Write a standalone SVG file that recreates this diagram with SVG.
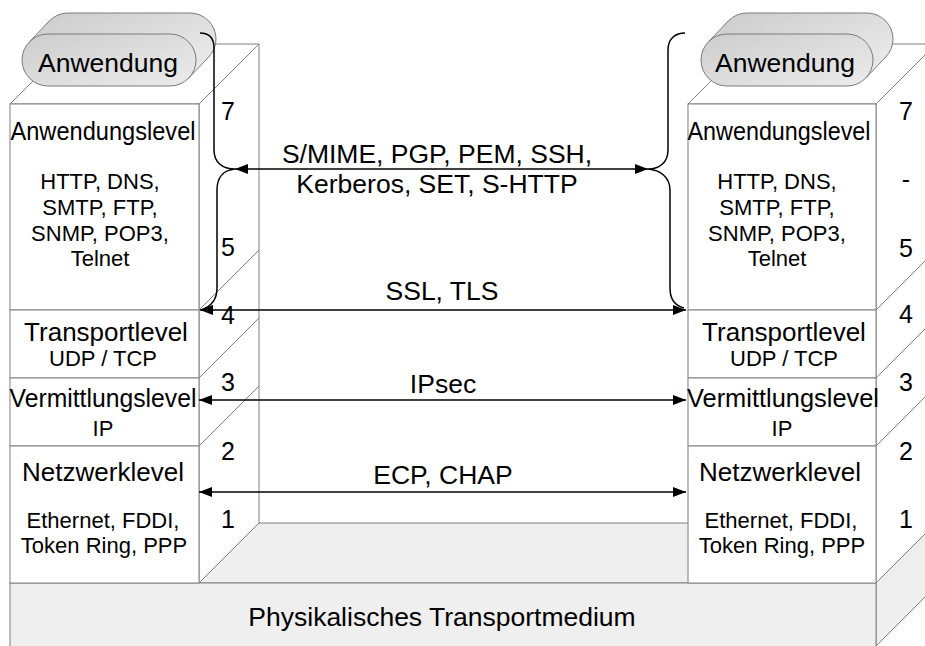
<svg xmlns="http://www.w3.org/2000/svg" width="925" height="646" viewBox="0 0 925 646">
<defs>
<linearGradient id="capg" x1="0" y1="0" x2="1" y2="1">
<stop offset="0" stop-color="#cdcdcd"/>
<stop offset="1" stop-color="#ececec"/>
</linearGradient>
<marker id="ah" markerWidth="13" markerHeight="10" refX="13" refY="5" orient="auto-start-reverse" markerUnits="userSpaceOnUse">
<path d="M0,0 L13,5 L0,10 z" fill="#000"/>
</marker>
<style>
.box{fill:#fff;stroke:#808080;stroke-width:1}
.gr{fill:#efefef;stroke:#808080;stroke-width:1}
.ln{stroke:#808080;stroke-width:1;fill:none}
.cap{fill:url(#capg);stroke:#7a7a7a;stroke-width:1}
.capf{fill:url(#capg);stroke:none}
.t{font-family:"Liberation Sans",Arial,sans-serif;fill:#000;text-anchor:middle}
.ti{font-size:26px}
.sb{font-size:22px}
.nm{font-size:25px}
.lb{font-size:26.5px}
.conn{stroke:#000;stroke-width:1.5;fill:none}
.arr{marker-start:url(#ah);marker-end:url(#ah)}
</style>
</defs>
<rect width="925" height="646" fill="#fff"/>
<g id="base">
<polygon class="gr" points="10,583 876,583 936,523 70,523"/>
<polygon class="gr" points="876,583 936,523 936,586 876,646"/>
<rect class="gr" x="10" y="583" width="866" height="70"/>
<text class="t lb" x="442" y="626">Physikalisches Transportmedium</text>
</g>
<g id="stack-left">
<polygon class="box" points="199,104 259,44 259,523 199,583"/>
<line class="ln" x1="199" y1="310" x2="259" y2="250"/>
<line class="ln" x1="199" y1="378" x2="259" y2="318"/>
<line class="ln" x1="199" y1="446" x2="259" y2="386"/>
<polygon class="box" points="10,104 199,104 259,44 70,44"/>
<rect class="box" x="10" y="104" width="189" height="206"/>
<rect class="box" x="10" y="310" width="189" height="68"/>
<rect class="box" x="10" y="378" width="189" height="68"/>
<rect class="box" x="10" y="446" width="189" height="137"/>
</g>
<g id="stack-right">
<polygon class="box" points="876,104 936,44 936,523 876,583"/>
<line class="ln" x1="876" y1="310" x2="936" y2="250"/>
<line class="ln" x1="876" y1="378" x2="936" y2="318"/>
<line class="ln" x1="876" y1="446" x2="936" y2="386"/>
<polygon class="box" points="688,104 876,104 936,44 748,44"/>
<rect class="box" x="688" y="104" width="188" height="206"/>
<rect class="box" x="688" y="310" width="188" height="68"/>
<rect class="box" x="688" y="378" width="188" height="68"/>
<rect class="box" x="688" y="446" width="188" height="137"/>
</g>
<g id="app-left">
<rect class="cap" x="42" y="13" width="174" height="52" rx="26"/>
<polygon class="capf" points="29.6,41.6 49.6,20.6 208.4,57.4 188.4,78.4"/>
<line class="ln" x1="29.6" y1="41.6" x2="49.6" y2="20.6" stroke="#7a7a7a"/>
<line class="ln" x1="188.4" y1="78.4" x2="208.4" y2="57.4" stroke="#7a7a7a"/>
<rect class="cap" x="22" y="34" width="174" height="52" rx="26"/>
<text class="t lb" x="108" y="72">Anwendung</text>
</g>
<g id="app-right">
<rect class="cap" x="721" y="13" width="172" height="52" rx="26"/>
<polygon class="capf" points="708.6,41.6 728.6,20.6 885.4,57.4 865.4,78.4"/>
<line class="ln" x1="708.6" y1="41.6" x2="728.6" y2="20.6" stroke="#7a7a7a"/>
<line class="ln" x1="865.4" y1="78.4" x2="885.4" y2="57.4" stroke="#7a7a7a"/>
<rect class="cap" x="701" y="34" width="172" height="52" rx="26"/>
<text class="t lb" x="785" y="72">Anwendung</text>
</g>
<g id="layer-app-left">
<text class="t ti" x="103" y="140" textLength="185" lengthAdjust="spacingAndGlyphs">Anwendungslevel</text>
<text class="t sb" x="100" y="189">HTTP, DNS,</text>
<text class="t sb" x="100" y="215">SMTP, FTP,</text>
<text class="t sb" x="100" y="241">SNMP, POP3,</text>
<text class="t sb" x="100" y="266">Telnet</text>
</g>
<g id="layer-transport-left">
<text class="t ti" x="106" y="341">Transportlevel</text>
<text class="t sb" x="103" y="366">UDP / TCP</text>
</g>
<g id="layer-network-left">
<text class="t ti" x="103" y="407" textLength="187" lengthAdjust="spacingAndGlyphs">Vermittlungslevel</text>
<text class="t sb" x="103" y="436">IP</text>
</g>
<g id="layer-link-left">
<text class="t ti" x="103" y="481">Netzwerklevel</text>
<text class="t sb" x="103" y="528">Ethernet, FDDI,</text>
<text class="t sb" x="104" y="553">Token Ring, PPP</text>
</g>
<g id="layer-app-right">
<text class="t ti" x="779" y="140" textLength="183" lengthAdjust="spacingAndGlyphs">Anwendungslevel</text>
<text class="t sb" x="777" y="189">HTTP, DNS,</text>
<text class="t sb" x="777" y="215">SMTP, FTP,</text>
<text class="t sb" x="777" y="241">SNMP, POP3,</text>
<text class="t sb" x="777" y="266">Telnet</text>
</g>
<g id="layer-transport-right">
<text class="t ti" x="784" y="341">Transportlevel</text>
<text class="t sb" x="784" y="366">UDP / TCP</text>
</g>
<g id="layer-network-right">
<text class="t ti" x="783" y="407" textLength="192" lengthAdjust="spacingAndGlyphs">Vermittlungslevel</text>
<text class="t sb" x="782" y="436">IP</text>
</g>
<g id="layer-link-right">
<text class="t ti" x="780" y="481">Netzwerklevel</text>
<text class="t sb" x="781" y="528">Ethernet, FDDI,</text>
<text class="t sb" x="782" y="553">Token Ring, PPP</text>
</g>
<g id="numbers">
<text class="t nm" x="228" y="120">7</text>
<text class="t nm" x="228" y="256">5</text>
<text class="t nm" x="228" y="324">4</text>
<text class="t nm" x="228" y="391">3</text>
<text class="t nm" x="228" y="460">2</text>
<text class="t nm" x="228" y="528">1</text>
<text class="t nm" x="906" y="120">7</text>
<text class="t nm" x="906" y="188">-</text>
<text class="t nm" x="906" y="257">5</text>
<text class="t nm" x="906" y="323">4</text>
<text class="t nm" x="906" y="391">3</text>
<text class="t nm" x="906" y="460">2</text>
<text class="t nm" x="906" y="528">1</text>
</g>
<g id="connectors">
<path class="conn" stroke-width="1.3" d="M200 33 C208 33 214 37 214 48 L214 150 C214 162 222 169 235 169 M235 169 C224 170 217 177 217 190 L217 288 C217 300 210 307 201 310"/>
<path class="conn" stroke-width="1.3" d="M685 33 C676 33 668 38 668 50 L668 150 C668 162 660 169 648 169 M648 169 C660 170 670 177 670 190 L670 288 C670 300 676 306 684 308"/>
<line class="conn arr" x1="235" y1="169" x2="648" y2="169"/>
<line class="conn arr" x1="200" y1="310" x2="686" y2="310"/>
<line class="conn arr" x1="199" y1="400" x2="686" y2="400"/>
<line class="conn arr" x1="199" y1="492" x2="686" y2="492"/>
</g>
<g id="connector-labels">
<text class="t lb" x="437" y="163">S/MIME, PGP, PEM, SSH,</text>
<text class="t lb" x="437" y="193">Kerberos, SET, S-HTTP</text>
<text class="t lb" x="442" y="300">SSL, TLS</text>
<text class="t lb" x="443" y="393">IPsec</text>
<text class="t lb" x="443" y="484">ECP, CHAP</text>
</g>
</svg>
